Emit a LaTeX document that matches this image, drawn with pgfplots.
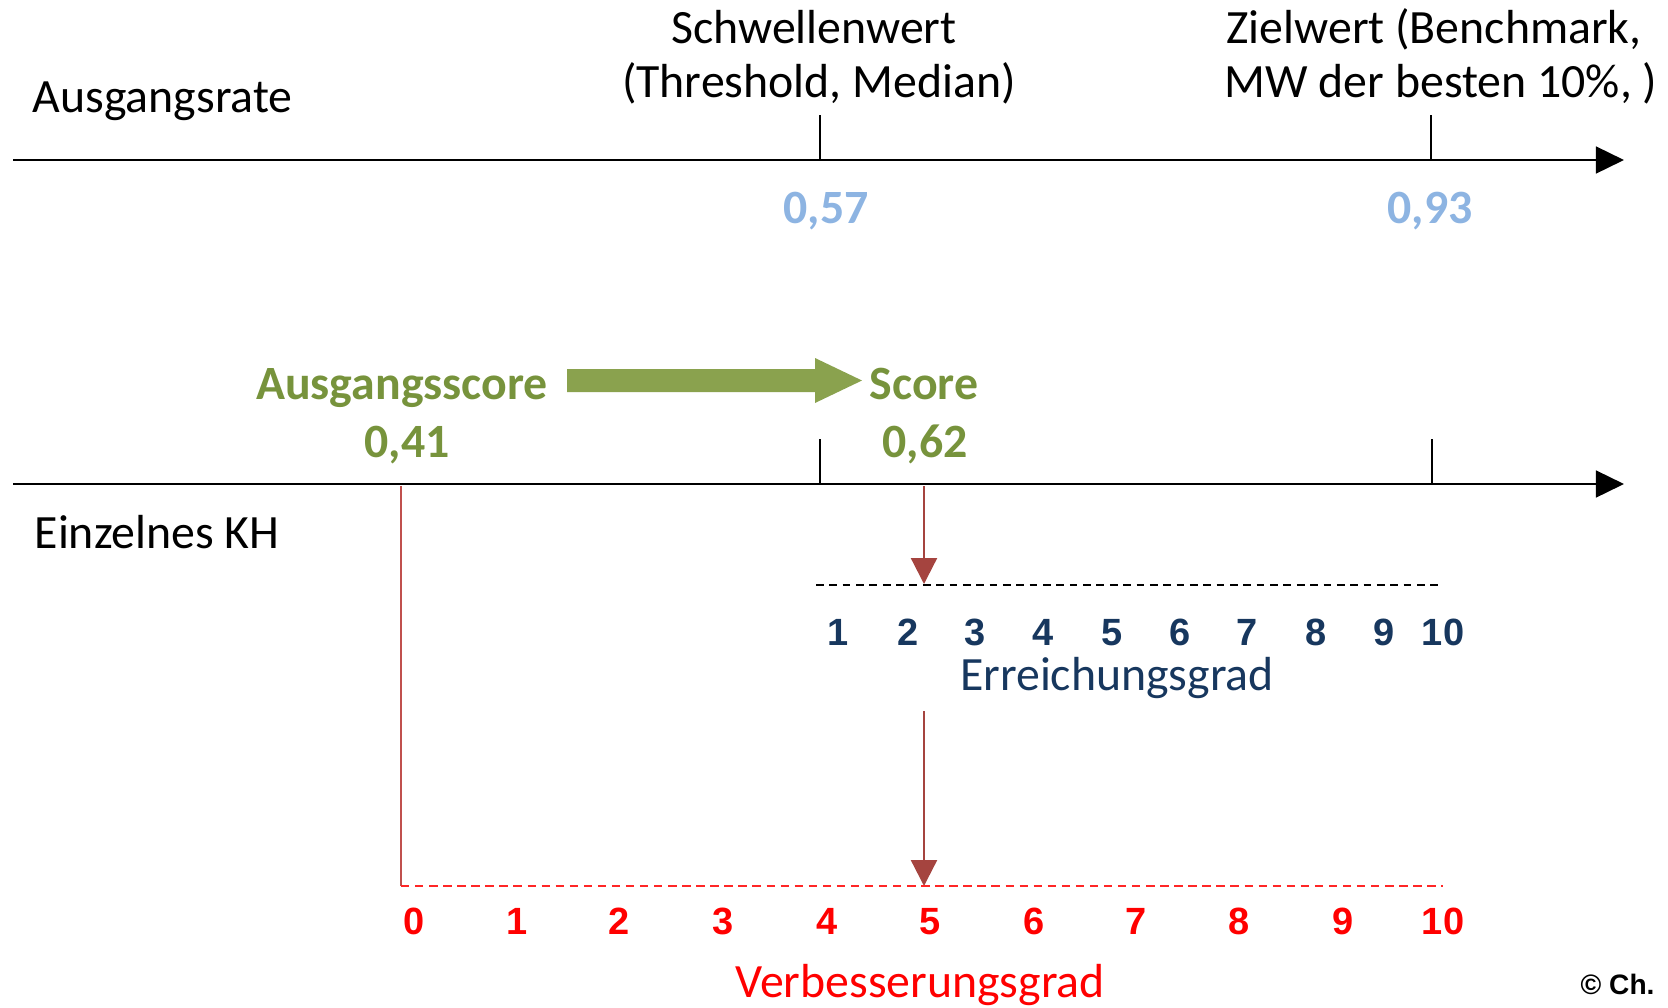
\documentclass[border=0pt]{standalone}
\usepackage{fontspec}
\setmainfont{Carlito}
\newfontfamily\arialfont{Liberation Sans}
\usepackage{pgfplots}
\pgfplotsset{compat=1.18}
\usetikzlibrary{arrows.meta}
\definecolor{lblue}{HTML}{8DB4E2}
\definecolor{dgreen}{HTML}{77933C}
\definecolor{agreen}{HTML}{8AA24E}
\definecolor{dblue}{HTML}{17375E}
\definecolor{brred}{HTML}{A5443F}
\definecolor{lred}{HTML}{C0504D}
\definecolor{vred}{HTML}{FF0000}
\newcommand\txt{\fontsize{13.6pt}{16pt}\selectfont}
\newcommand\bnum{\arialfont\bfseries\fontsize{10.8pt}{12pt}\selectfont}
\tikzset{
  tl/.style={anchor=base,inner sep=0pt,font=\txt},
  bn/.style={anchor=base,inner sep=0pt,font=\bnum,text=dblue},
  rn/.style={anchor=base,inner sep=0pt,font=\bnum,text=vred}}
\begin{document}
\begin{tikzpicture}
\begin{axis}[width=16.68cm,height=10.07cm,scale only axis,hide axis,
  xmin=0,xmax=1668,ymin=0,ymax=1007,y dir=reverse,clip=false]
% top axis (Ausgangsrate)
\addplot[black,line width=0.8pt,-{Triangle[length=8pt,width=7.6pt]}] coordinates {(13,160) (1624,160)};
\addplot[black,line width=0.55pt] coordinates {(820,115) (820,160)};
\addplot[black,line width=0.55pt] coordinates {(1431,115) (1431,160)};
% second axis (Einzelnes KH)
\addplot[black,line width=0.8pt,-{Triangle[length=8pt,width=7.6pt]}] coordinates {(13,484) (1624,484)};
\addplot[black,line width=0.55pt] coordinates {(820,439) (820,484)};
\addplot[black,line width=0.55pt] coordinates {(1432,439) (1432,484)};
% green block arrow
\addplot[fill=agreen,draw=none] coordinates {(567,369) (815,369) (815,358) (862,380.5) (815,403) (815,392) (567,392) (567,369)};
% red lines
\addplot[lred,line width=0.5pt] coordinates {(401,486) (401,886)};
\addplot[brred,line width=0.65pt,-{Triangle[length=7.4pt,width=7.4pt]}] coordinates {(924,486) (924,584)};
\addplot[brred,line width=0.65pt,-{Triangle[length=7.4pt,width=7.4pt]}] coordinates {(924,711) (924,886)};
% dashed scales
\addplot[black,line width=0.6pt,dash pattern=on 2.2pt off 1.6pt] coordinates {(816,585) (1440,585)};
\addplot[vred!85!white,line width=0.55pt,dash pattern=on 2.4pt off 1.6pt] coordinates {(401,886) (1443,886)};
% texts
\node[tl] at (axis cs:814,43) {Schwellenwert};
\node[tl] at (axis cs:819,97) {(Threshold, Median)};
\node[tl] at (axis cs:1434,43) {Zielwert (Benchmark,};
\node[tl] at (axis cs:1441,97) {MW der besten 10\%, )};
\node[tl,anchor=base west] at (axis cs:32,112) {Ausgangsrate};
\node[tl,text=lblue,font=\txt\bfseries] at (axis cs:826,223) {0,57};
\node[tl,text=lblue,font=\txt\bfseries] at (axis cs:1430,223) {0,93};
\node[tl,text=dgreen,font=\txt\bfseries] at (axis cs:402,399) {Ausgangsscore};
\node[tl,text=dgreen,font=\txt\bfseries] at (axis cs:924,399) {Score};
\node[tl,text=dgreen,font=\txt\bfseries] at (axis cs:407,457) {0,41};
\node[tl,text=dgreen,font=\txt\bfseries] at (axis cs:925,457) {0,62};
\node[tl,anchor=base west] at (axis cs:34,548) {Einzelnes KH};
% Erreichungsgrad scale
\node[bn] at (axis cs:838,645) {1};
\node[bn] at (axis cs:908,645) {2};
\node[bn] at (axis cs:975,645) {3};
\node[bn] at (axis cs:1043,645) {4};
\node[bn] at (axis cs:1112,645) {5};
\node[bn] at (axis cs:1180,645) {6};
\node[bn] at (axis cs:1247,645) {7};
\node[bn] at (axis cs:1316,645) {8};
\node[bn] at (axis cs:1384,645) {9};
\node[bn] at (axis cs:1443,645) {10};
\node[tl,text=dblue] at (axis cs:1117,690) {Erreichungsgrad};
% Verbesserungsgrad scale
\node[rn] at (axis cs:414,934) {0};
\node[rn] at (axis cs:517,934) {1};
\node[rn] at (axis cs:619,934) {2};
\node[rn] at (axis cs:723,934) {3};
\node[rn] at (axis cs:827,934) {4};
\node[rn] at (axis cs:930,934) {5};
\node[rn] at (axis cs:1034,934) {6};
\node[rn] at (axis cs:1136,934) {7};
\node[rn] at (axis cs:1239,934) {8};
\node[rn] at (axis cs:1343,934) {9};
\node[rn] at (axis cs:1443,934) {10};
\node[tl,text=vred] at (axis cs:920,997) {Verbesserungsgrad};
\node[anchor=base west,inner sep=0pt,font={\arialfont\bfseries\fontsize{8pt}{9pt}\selectfont}] at (axis cs:1580,994) {© Ch.};
\end{axis}
\pgfresetboundingbox
\path[use as bounding box] (current axis.south west) rectangle (current axis.north east);
\end{tikzpicture}
\end{document}
